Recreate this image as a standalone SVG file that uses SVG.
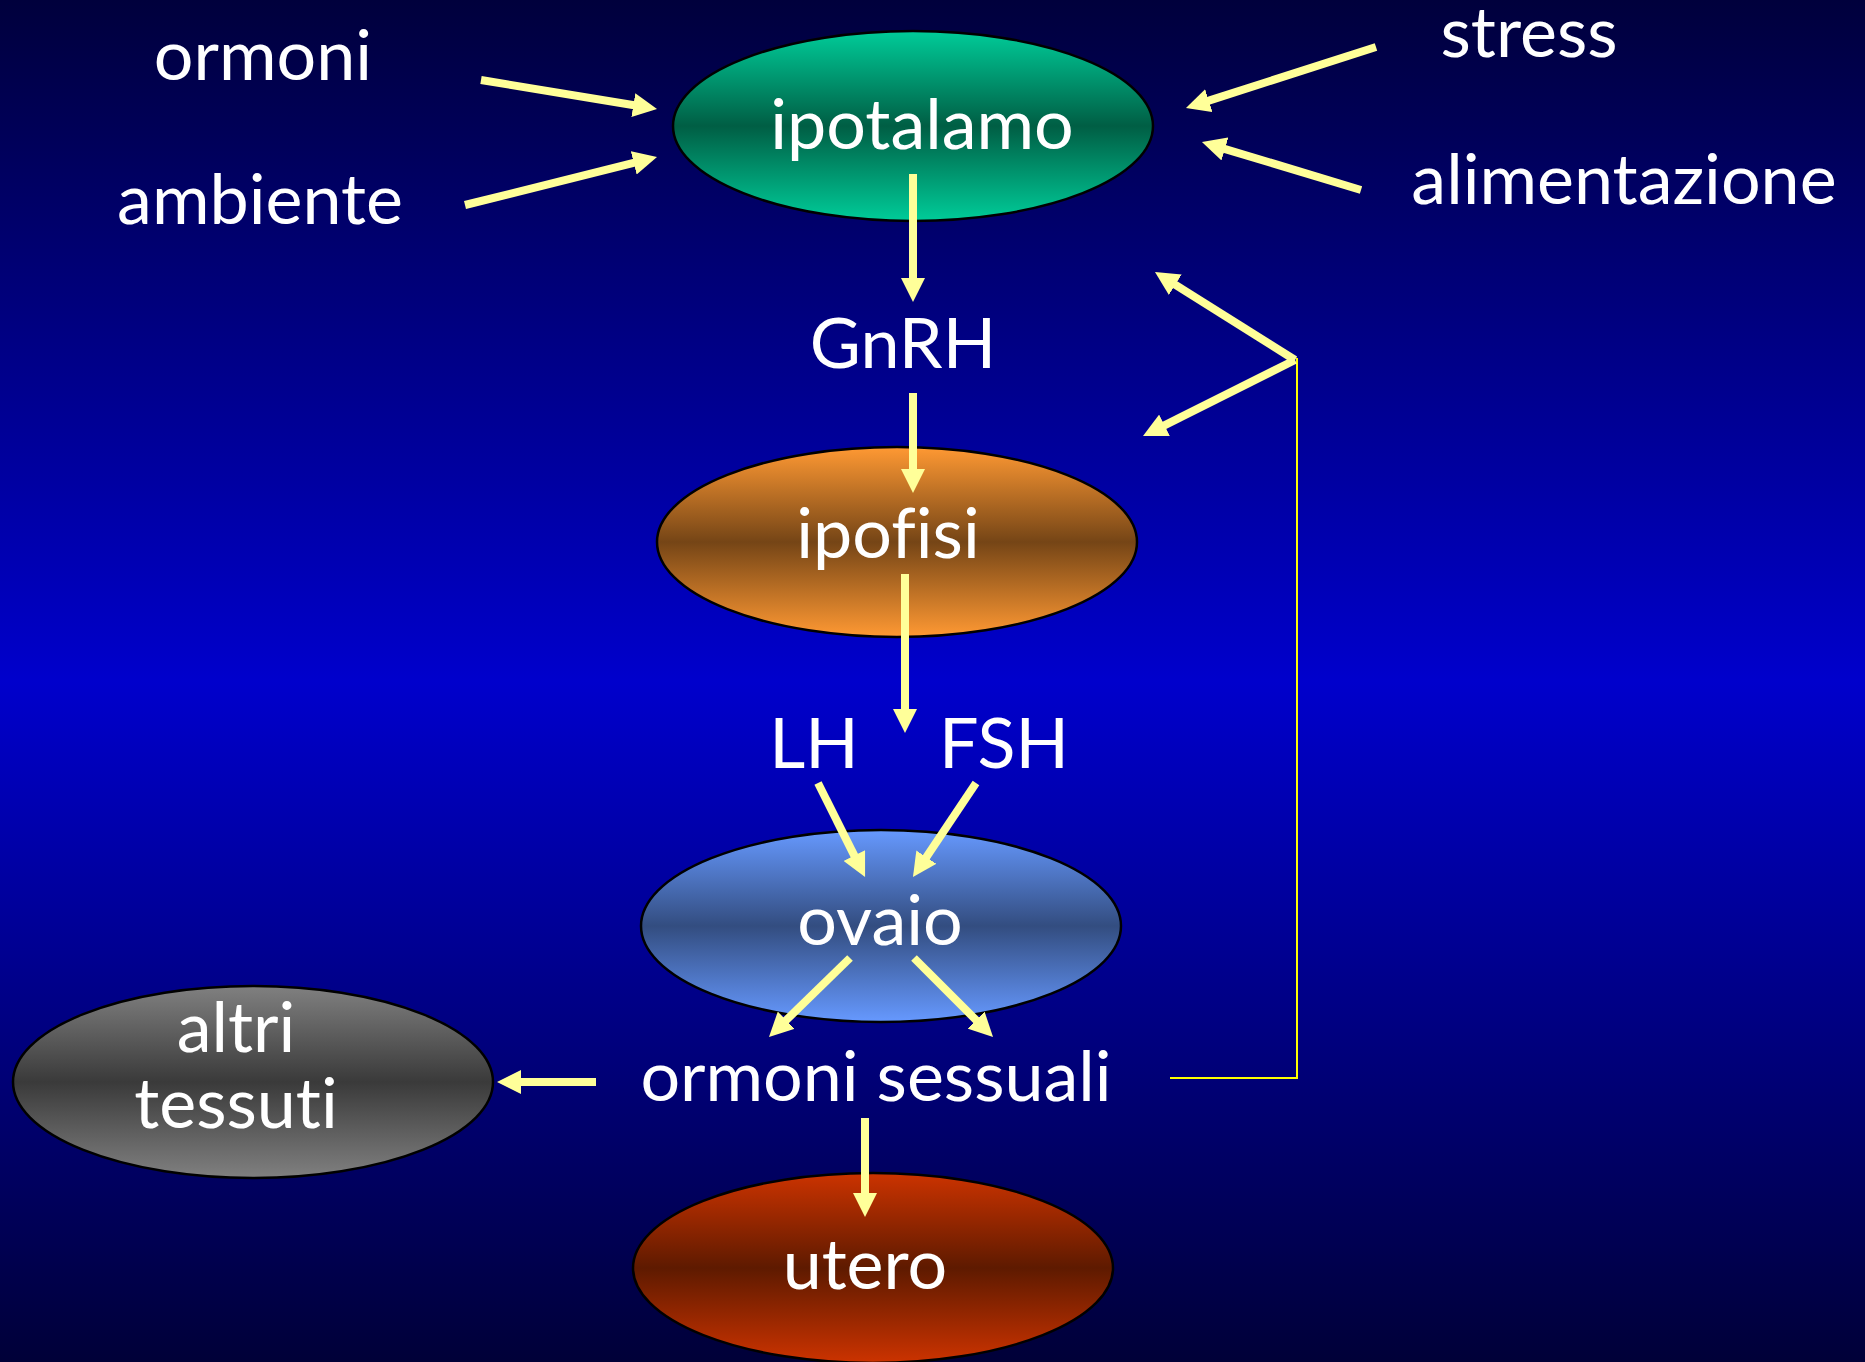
<svg xmlns="http://www.w3.org/2000/svg" width="1865" height="1362" viewBox="0 0 1865 1362">
<style>
.t{font-family:Lato,"Open Sans","Liberation Sans",sans-serif;font-size:70px;fill:#FFFFFF;text-anchor:middle;font-variant-ligatures:none;font-feature-settings:"liga" 0}
.n{stroke:#000000;stroke-width:2.5}
.a{stroke:#FFFF99;stroke-width:8;fill:none;marker-end:url(#ah)}
</style>
<defs>
<linearGradient id="bg" x1="0" y1="0" x2="0" y2="1">
<stop offset="0" stop-color="#00003C"/>
<stop offset="0.5" stop-color="#0000CC"/>
<stop offset="1" stop-color="#000038"/>
</linearGradient>
<linearGradient id="gGreen" x1="0" y1="0" x2="0" y2="1">
<stop offset="0" stop-color="#00CC99"/>
<stop offset="0.5" stop-color="#005E44"/>
<stop offset="1" stop-color="#00CC99"/>
</linearGradient>
<linearGradient id="gOrange" x1="0" y1="0" x2="0" y2="1">
<stop offset="0" stop-color="#FF9933"/>
<stop offset="0.5" stop-color="#754516"/>
<stop offset="1" stop-color="#FF9933"/>
</linearGradient>
<linearGradient id="gBlue" x1="0" y1="0" x2="0" y2="1">
<stop offset="0" stop-color="#6699FF"/>
<stop offset="0.5" stop-color="#334D80"/>
<stop offset="1" stop-color="#6699FF"/>
</linearGradient>
<linearGradient id="gGray" x1="0" y1="0" x2="0" y2="1">
<stop offset="0" stop-color="#808080"/>
<stop offset="0.5" stop-color="#3A3A3A"/>
<stop offset="1" stop-color="#808080"/>
</linearGradient>
<linearGradient id="gRed" x1="0" y1="0" x2="0" y2="1">
<stop offset="0" stop-color="#CC3300"/>
<stop offset="0.5" stop-color="#5E1A00"/>
<stop offset="1" stop-color="#CC3300"/>
</linearGradient>
<marker id="ah" markerUnits="strokeWidth" markerWidth="3" markerHeight="3" viewBox="0 0 3 3" refX="0.5" refY="1.5" orient="auto">
<path d="M0,0 L3,1.5 L0,3 z" fill="#FFFF99"/>
</marker>
</defs>
<rect x="0" y="0" width="1865" height="1362" fill="url(#bg)"/>

<g id="ipotalamo">
<ellipse class="n" cx="913" cy="126" rx="240" ry="95" fill="url(#gGreen)"/>
<text class="t" x="922" y="149">ipotalamo</text>
</g>
<g id="ipofisi">
<ellipse class="n" cx="897" cy="542" rx="240" ry="95" fill="url(#gOrange)"/>
<text class="t" x="888" y="558">ipofisi</text>
</g>
<g id="ovaio">
<ellipse class="n" cx="881" cy="926" rx="240" ry="96" fill="url(#gBlue)"/>
<text class="t" x="880" y="945">ovaio</text>
</g>
<g id="altri-tessuti">
<ellipse class="n" cx="253" cy="1082" rx="240" ry="96" fill="url(#gGray)"/>
<text class="t" x="236" y="1052">altri</text>
<text class="t" x="236" y="1128">tessuti</text>
</g>
<g id="utero">
<ellipse class="n" cx="873" cy="1268" rx="240" ry="95" fill="url(#gRed)"/>
<text class="t" x="865" y="1289">utero</text>
</g>

<g id="ormoni"><text class="t" x="263" y="80">ormoni</text></g>
<g id="ambiente"><text class="t" x="260" y="224">ambiente</text></g>
<g id="stress"><text class="t" x="1529" y="57">stress</text></g>
<g id="alimentazione"><text class="t" x="1624" y="204">alimentazione</text></g>
<g id="GnRH"><text class="t" x="903" y="368">GnRH</text></g>
<g id="LH"><text class="t" x="814" y="768">LH</text></g>
<g id="FSH"><text class="t" x="1004" y="768">FSH</text></g>
<g id="ormoni-sessuali"><text class="t" x="876" y="1101">ormoni sessuali</text></g>

<g id="connectors">
<polyline points="1170,1078 1297,1078 1297,358" fill="none" stroke="#FFFF00" stroke-width="2"/>
<line class="a" x1="481" y1="80" x2="637.3" y2="105.7"/>
<line class="a" x1="465" y1="205" x2="637.6" y2="161.9"/>
<line class="a" x1="1376" y1="47" x2="1205" y2="101.9"/>
<line class="a" x1="1361" y1="190" x2="1221.1" y2="147.8"/>
<line class="a" x1="913" y1="174" x2="913" y2="282"/>
<line class="a" x1="913" y1="393" x2="913" y2="473"/>
<line class="a" x1="905" y1="574" x2="905" y2="713"/>
<line class="a" x1="818" y1="783" x2="856.1" y2="859.1"/>
<line class="a" x1="976" y1="783" x2="924.1" y2="860.4"/>
<line class="a" x1="850" y1="958" x2="783.3" y2="1023"/>
<line class="a" x1="914" y1="958" x2="978.9" y2="1022.9"/>
<line class="a" x1="596" y1="1082" x2="517" y2="1082"/>
<line class="a" x1="865" y1="1118" x2="865" y2="1197"/>
<line class="a" x1="1295" y1="360" x2="1171.9" y2="282.6"/>
<line class="a" x1="1295" y1="360" x2="1160.9" y2="427.1"/>
</g>
</svg>
